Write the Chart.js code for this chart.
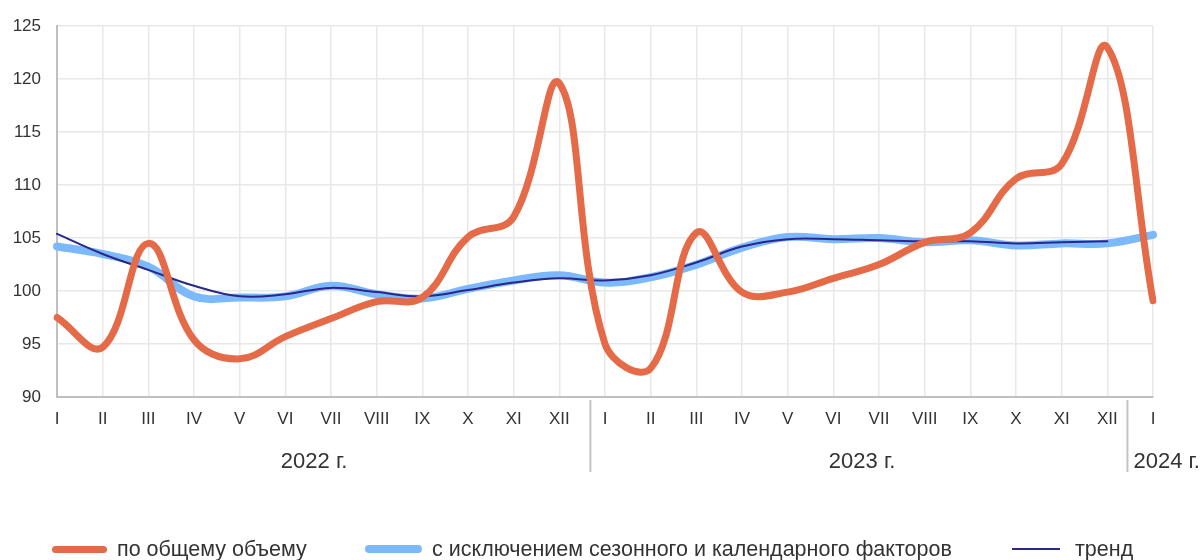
<!DOCTYPE html>
<html lang="ru">

<head>
    <meta charset="UTF-8">
    <title>Индексы</title>
    <script src="https://cdn.jsdelivr.net/npm/chart.js@4.4.0/dist/chart.umd.min.js"></script>
    <style>
        body { margin: 0; background: #fff; font-family: "Liberation Sans", Arial, sans-serif; }
        #wrap { position: relative; width: 1202px; height: 560px; overflow: hidden; }
        .item { position: absolute; top: 536px; height: 26px; display: flex; align-items: center; font-size: 21.5px; color: #333; white-space: nowrap; }
        .swatch { display: inline-block; margin-right: 10px; border-radius: 4px; }
    </style>
</head>

<body>
    <div id="wrap">
        <canvas id="myChart" width="1202" height="560"></canvas>
        <div id="legend"></div>
    </div>

    <script>
        const months = ['I', 'II', 'III', 'IV', 'V', 'VI', 'VII', 'VIII', 'IX', 'X', 'XI', 'XII',
            'I', 'II', 'III', 'IV', 'V', 'VI', 'VII', 'VIII', 'IX', 'X', 'XI', 'XII', 'I'];
        const years = ['2022 г.', '2023 г.', '2024 г.'];
        const yearStart = [0, 12, 24];

        const total = [97.5, 94.7, 104.5, 95.4, 93.6, 95.7, 97.4, 99.0, 99.4, 105.1, 107.0, 119.6,
            95.0, 92.7, 105.5, 99.9, 99.9, 101.2, 102.5, 104.6, 105.5, 110.6, 112.0, 123.0, 99.1];
        const seasonal = [104.2, 103.5, 102.3, 99.5, 99.4, 99.5, 100.5, 99.7, 99.3, 100.2, 101.0, 101.5,
            100.8, 101.3, 102.5, 104.1, 105.1, 104.9, 105.0, 104.6, 104.8, 104.3, 104.5, 104.5, 105.3];
        const trend = [105.4, 103.5, 102.0, 100.5, 99.5, 99.7, 100.3, 99.9, 99.5, 100.1, 100.8, 101.2,
            101.0, 101.5, 102.7, 104.2, 104.9, 104.9, 104.8, 104.7, 104.7, 104.5, 104.6, 104.7, null];

        const seriesNames = ['по общему объему', 'с исключением сезонного и календарного факторов', 'тренд'];
        const seriesColors = ['rgb(228, 106, 72)', 'rgb(124, 185, 250)', 'rgb(42, 38, 140)'];

        // year labels and separators under the month ticks
        const yearAxis = {
            id: 'yearAxis',
            afterDraw(chart) {
                const ctx = chart.ctx;
                const x = chart.scales.x;
                const sepFrac = [0, 0.68, 0.44];
                ctx.save();
                ctx.strokeStyle = '#c4c4c4';
                ctx.lineWidth = 2;
                ctx.fillStyle = '#333';
                ctx.font = '22px "Liberation Sans", Arial, sans-serif';
                ctx.textBaseline = 'middle';
                years.forEach((label, i) => {
                    const s = yearStart[i];
                    if (i > 0) {
                        const px = x.getPixelForValue(s - 1) + (x.getPixelForValue(s) - x.getPixelForValue(s - 1)) * sepFrac[i];
                        ctx.beginPath();
                        ctx.moveTo(px, 400);
                        ctx.lineTo(px, 472);
                        ctx.stroke();
                        if (s === months.length - 1) {
                            ctx.textAlign = 'left';
                            ctx.fillText(label, px + 6, 462);
                            return;
                        }
                    }
                    ctx.textAlign = 'center';
                    const c = x.getPixelForValue(s) + (x.getPixelForValue(s + 1) - x.getPixelForValue(s)) * 5.63;
                    ctx.fillText(label, c, 462);
                });
                ctx.restore();
            }
        };

        const ctx = document.getElementById('myChart').getContext('2d');
        const chart = new Chart(ctx, {
            type: 'line',
            data: {
                labels: months,
                datasets: [
                    {
                        label: seriesNames[0],
                        data: total,
                        borderColor: seriesColors[0],
                        borderWidth: 7,
                        order: 0
                    },
                    {
                        label: seriesNames[1],
                        data: seasonal,
                        borderColor: seriesColors[1],
                        borderWidth: 8,
                        order: 2
                    },
                    {
                        label: seriesNames[2],
                        data: trend,
                        borderColor: seriesColors[2],
                        borderWidth: 2,
                        order: 1
                    }]
            },
            options: {
                responsive: false,
                animation: false,
                devicePixelRatio: 1,
                layout: { padding: { top: 23, right: 49, left: 0, bottom: 0 } },
                elements: {
                    point: { radius: 0 },
                    line: { tension: 0.4, borderCapStyle: 'round', borderJoinStyle: 'round' }
                },
                plugins: {
                    legend: { display: false },
                    tooltip: { enabled: false }
                },
                scales: {
                    x: {
                        offset: false,
                        grid: { color: '#e8e8e8', lineWidth: 1.5, drawTicks: false },
                        border: { color: '#c0c0c0', width: 2 },
                        ticks: {
                            color: '#333',
                            font: { family: '"Liberation Sans", Arial, sans-serif', size: 17 },
                            padding: 12,
                            maxRotation: 0,
                            autoSkip: false
                        },
                        afterFit(scale) { scale.height = 163; }
                    },
                    y: {
                        min: 90,
                        max: 125,
                        grid: { color: '#e8e8e8', lineWidth: 1.5, drawTicks: false },
                        border: { color: '#c0c0c0', width: 2 },
                        ticks: {
                            stepSize: 5,
                            color: '#333',
                            font: { family: '"Liberation Sans", Arial, sans-serif', size: 17 },
                            padding: 16
                        },
                        afterFit(scale) { scale.width = 57; }
                    }
                }
            },
            plugins: [yearAxis]
        });

        // legend in html below the plot
        const legendPos = [52, 365, 1012];
        const swatch = [[55, 7], [57, 8], [48, 2]];
        const legend = document.getElementById('legend');
        seriesNames.forEach((name, i) => {
            const item = document.createElement('div');
            item.className = 'item';
            item.style.left = legendPos[i] + 'px';
            const sw = document.createElement('span');
            sw.className = 'swatch';
            sw.style.width = swatch[i][0] + 'px';
            sw.style.height = swatch[i][1] + 'px';
            sw.style.background = seriesColors[i];
            if (i === 2) { sw.style.marginRight = '15px'; sw.style.borderRadius = '0'; }
            item.appendChild(sw);
            item.appendChild(document.createTextNode(name));
            legend.appendChild(item);
        });
    </script>
</body>

</html>
